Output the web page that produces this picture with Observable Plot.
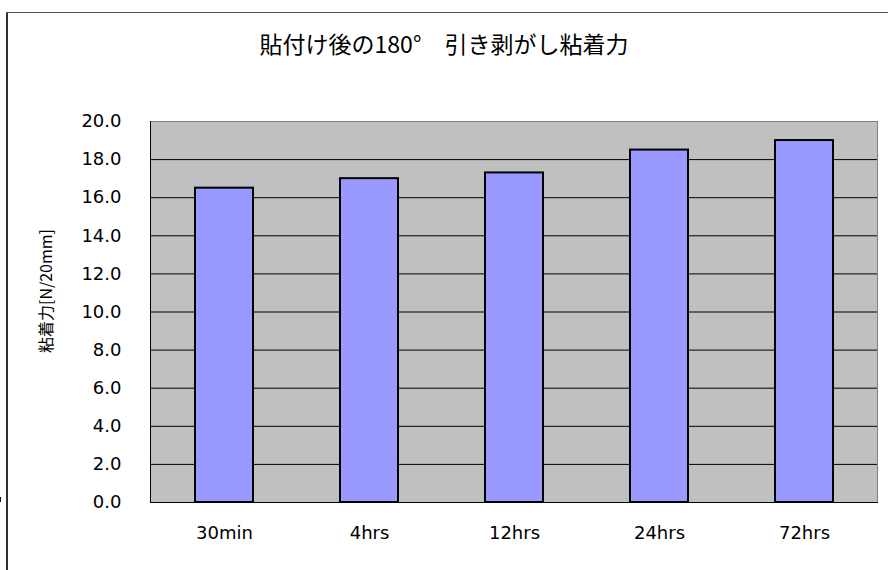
<!DOCTYPE html>
<html>
<head>
<meta charset="utf-8">
<script src="https://cdn.jsdelivr.net/npm/d3@7"></script>
<script src="https://cdn.jsdelivr.net/npm/@observablehq/plot@0.6"></script>
<style>
  html, body { margin: 0; padding: 0; background: #fff; overflow: hidden; }
  #wrap { position: relative; width: 888px; height: 570px; overflow: hidden; background: #fff; }
  #chart { position: absolute; left: 0; top: 0; z-index: 1; }
  #chart svg { display: block; }
  #vline { position: absolute; left: 6px; top: 12px; width: 2px; height: 560px; background: #303030; z-index: 2; }
  #hline { position: absolute; left: 6px; top: 12px; width: 900px; height: 1px; background: #505050; z-index: 2; }
  #title { position: absolute; left: 0; width: 888px; top: 27px; text-align: center; z-index: 3;
           font-family: "Noto Sans CJK JP", sans-serif; font-size: 23px; line-height: 32px; color: #000; white-space: pre; }
  #ylabel { position: absolute; left: 45px; top: 291px; transform: translate(-50%, -50%) rotate(-90deg); z-index: 3;
            font-family: "Noto Sans CJK JP", sans-serif; font-size: 16px; line-height: 20px; color: #000; white-space: pre; }
</style>
</head>
<body>
<div id="wrap">
  <div id="chart"></div>
  <div id="vline"></div>
  <div id="hline"></div>
  <div id="title"></div>
  <div id="ylabel"></div>
</div>
<script>
const titleText = "貼付け後の180°　引き剥がし粘着力";
const yLabel = "粘着力[N/20mm]";
const categories = ["30min", "4hrs", "12hrs", "24hrs", "72hrs"];
const values = [16.5, 17.0, 17.3, 18.5, 19.0];
const yTicks = [0, 2, 4, 6, 8, 10, 12, 14, 16, 18, 20];

document.getElementById("title").textContent = titleText;
document.getElementById("ylabel").textContent = yLabel;

const data = categories.map((c, i) => ({category: c, value: values[i]}));

// small tick marks at category boundaries on the x axis
function bandTicks(index, scales) {
  const g = d3.create("svg:g");
  const bw = scales.x.bandwidth;
  const y0 = scales.y(0);
  for (let i = 1; i < categories.length; i++) {
    const xb = (scales.x(categories[i - 1]) + bw + scales.x(categories[i])) / 2;
    g.append("line").attr("x1", xb).attr("x2", xb).attr("y1", y0).attr("y2", y0 - 5)
      .attr("stroke", "#000").attr("stroke-width", 1);
  }
  return g.node();
}

const chart = Plot.plot({
  width: 888,
  height: 570,
  marginTop: 121,
  marginLeft: 150,
  marginRight: 11,
  marginBottom: 68,
  style: {fontFamily: "'DejaVu Sans', sans-serif", fontSize: "18px", color: "#000", background: "transparent"},
  x: {domain: categories, paddingInner: 0.6, paddingOuter: 0.3, label: null, tickSize: 0, tickPadding: 24},
  y: {domain: [0, 20], ticks: yTicks, tickFormat: d3.format(".1f"), label: null, tickSize: 0, tickPadding: 29},
  marks: [
    Plot.frame({fill: "#C0C0C0", stroke: "#808080"}),
    Plot.gridY(yTicks.slice(1, -1), {stroke: "#000", strokeOpacity: 1, strokeWidth: 1}),
    Plot.barY(data, {x: "category", y: "value", fill: "#9999FF", stroke: "#000", strokeWidth: 2}),
    Plot.frame({anchor: "left", stroke: "#000"}),
    Plot.frame({anchor: "bottom", stroke: "#000"}),
    bandTicks
  ]
});
document.getElementById("chart").appendChild(chart);
</script>
</body>
</html>
